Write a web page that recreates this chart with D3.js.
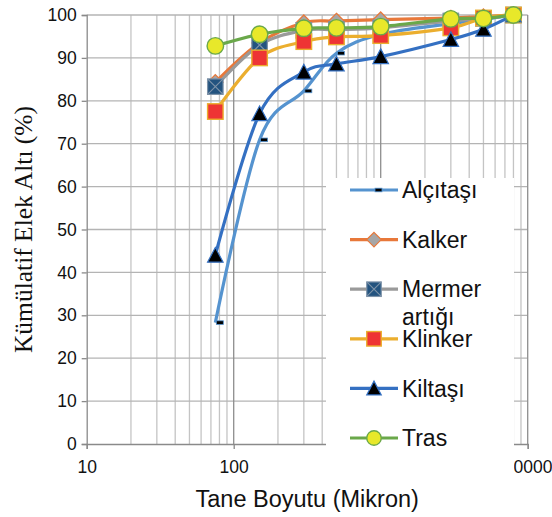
<!DOCTYPE html>
<html><head><meta charset="utf-8">
<script src="https://cdn.jsdelivr.net/npm/d3@7"></script>
<style>body{margin:0;background:#fff;} svg{display:block;}</style>
</head><body>
<svg id="chart" width="552" height="517"></svg>
<script>
// ---- data ----
const sizes = [75, 150, 300, 500, 1000, 3000, 5000, 8000];
const seriesNames = ["Alçıtaşı", "Kalker", "Mermer artığı", "Klinker", "Kiltaşı", "Tras"];
const alcitasi = [28.3, 70.9, 82.3, 91.1, 95.5, 98.0, 99.0, 100];
const kalker   = [84.3, 93.5, 98.2, 98.6, 98.9, 99.3, 99.6, 100];
const mermer   = [83.3, 93.0, 96.4, 96.6, 97.0, 98.6, 99.2, 100];
const klinker  = [77.5, 90.0, 93.8, 94.9, 95.2, 97.0, 99.3, 100];
const kiltasi  = [44.0, 77.0, 86.7, 88.6, 90.3, 94.3, 96.7, 100];
const tras     = [92.8, 95.5, 96.9, 97.0, 97.3, 99.1, 99.2, 100];
const yTicks = [0, 10, 20, 30, 40, 50, 60, 70, 80, 90, 100];
const xTicks = [10, 100, 1000, 10000];
const xTickLabels = ["10", "100", "1000", "10000"];
const xTitle = "Tane Boyutu (Mikron)";
const yTitle = "Kümülatif Elek Altı (%)";

// ---- styles ----
const styles = [
  {line: "#5593cf", marker: "dash",     fill: "#000",    stroke: "#5593cf"},
  {line: "#e8783a", marker: "diamond",  fill: "#a6a6a6", stroke: "#e8783a"},
  {line: "#9a9a9a", marker: "xsquare",  fill: "#23537f", stroke: "#7d92a8"},
  {line: "#ebae2e", marker: "square",   fill: "#ee3434", stroke: "#ebae2e"},
  {line: "#3470c2", marker: "triangle", fill: "#000",    stroke: "#3470c2"},
  {line: "#6aa84a", marker: "circle",   fill: "#e8e82a", stroke: "#6aa84a"}
];
const allValues = [alcitasi, kalker, mermer, klinker, kiltasi, tras];

const svg = d3.select("#chart");
const x = d3.scaleLog().domain([10, 10000]).range([86.7, 527.7]);
const y = d3.scaleLinear().domain([0, 100]).range([444, 15]);
const FONT = "'Liberation Sans', Arial, sans-serif";

// grid
const minor = [];
[10, 100, 1000].forEach(d => { for (let k = 2; k <= 9; k++) minor.push(d * k); });
svg.append("g").selectAll("line").data(minor).join("line")
  .attr("x1", d => x(d)).attr("x2", d => x(d)).attr("y1", y(100)).attr("y2", y(0))
  .attr("stroke", "#c4c4c4").attr("stroke-width", 1.3);
svg.append("g").selectAll("line").data(yTicks.slice(1)).join("line")
  .attr("x1", x(10)).attr("x2", x(10000)).attr("y1", d => y(d)).attr("y2", d => y(d))
  .attr("stroke", "#b4b4b4").attr("stroke-width", 1.3);
svg.append("g").selectAll("line").data(xTicks.slice(1)).join("line")
  .attr("x1", d => x(d)).attr("x2", d => x(d)).attr("y1", y(100)).attr("y2", y(0))
  .attr("stroke", "#8e8e8e").attr("stroke-width", 1.3);

// axes
const yAxis = svg.append("g").attr("transform", `translate(${x(10)},0)`)
  .call(d3.axisLeft(y).tickValues(yTicks).tickSize(5).tickPadding(5).tickFormat(d3.format("d")));
const xAxis = svg.append("g").attr("transform", `translate(0,${y(0)})`)
  .call(d3.axisBottom(x).tickValues(xTicks).tickSize(5).tickPadding(12).tickFormat((d, i) => xTickLabels[i]));
[yAxis, xAxis].forEach(a => {
  a.select(".domain").attr("stroke", "#8a8a8a").attr("stroke-width", 1.3);
  a.selectAll(".tick line").attr("stroke", "#8a8a8a").attr("stroke-width", 1.3);
  a.selectAll("text").attr("font-family", FONT).attr("font-size", 17.5).attr("fill", "#111");
});

// marker drawing
function drawMarker(g, type, fill, stroke, s) {
  const h = s / 2;
  if (type === "dash") {
    g.append("rect").attr("x", 1).attr("y", -1.8).attr("width", 7).attr("height", 3.6)
      .attr("fill", fill).attr("stroke", stroke).attr("stroke-width", 0.8);
  } else if (type === "diamond") {
    g.append("path").attr("d", `M0,${-h}L${h},0L0,${h}L${-h},0Z`)
      .attr("fill", fill).attr("stroke", stroke).attr("stroke-width", 1.2);
  } else if (type === "xsquare") {
    g.append("rect").attr("x", -h).attr("y", -h).attr("width", s).attr("height", s)
      .attr("fill", fill).attr("stroke", stroke).attr("stroke-width", 1.2);
    g.append("path").attr("d", `M${-h},${-h}L${h},${h}M${h},${-h}L${-h},${h}`)
      .attr("stroke", stroke).attr("stroke-width", 1.2);
  } else if (type === "square") {
    g.append("rect").attr("x", -h).attr("y", -h).attr("width", s).attr("height", s)
      .attr("fill", fill).attr("stroke", stroke).attr("stroke-width", 1.4);
  } else if (type === "triangle") {
    g.append("path").attr("d", `M0,${-h}L${h},${h * 0.9}L${-h},${h * 0.9}Z`)
      .attr("fill", fill).attr("stroke", stroke).attr("stroke-width", 1.2);
  } else if (type === "circle") {
    g.append("circle").attr("r", h).attr("fill", fill).attr("stroke", stroke).attr("stroke-width", 1.4);
  }
}

// series
const line = d3.line().x((d, i) => x(sizes[i])).y(d => y(d)).curve(d3.curveCardinal.tension(0));
allValues.forEach((vals, si) => {
  const st = styles[si];
  const g = svg.append("g");
  g.append("path").datum(vals).attr("d", line).attr("fill", "none")
    .attr("stroke", st.line).attr("stroke-width", 3.2).attr("stroke-linejoin", "round");
  vals.forEach((v, i) => {
    const mg = g.append("g").attr("transform", `translate(${x(sizes[i])},${y(v)})`);
    drawMarker(mg, st.marker, st.fill, st.stroke, st.marker === "circle" ? 16.5 : 15.5);
  });
});

// legend
const leg = svg.append("g");
leg.append("rect").attr("x", 326).attr("y", 178).attr("width", 188).attr("height", 302).attr("fill", "#fff");
const legTop = 190, legStep = 49.6;
seriesNames.forEach((name, i) => {
  const st = styles[i];
  const cy = legTop + i * legStep;
  leg.append("line").attr("x1", 350).attr("x2", 398).attr("y1", cy).attr("y2", cy)
    .attr("stroke", st.line).attr("stroke-width", 3.2);
  const mg = leg.append("g").attr("transform", `translate(374,${cy})`);
  drawMarker(mg, st.marker, st.fill, st.stroke, 14.5);
  const words = name.split(" ");
  words.forEach((w, k) => {
    leg.append("text").attr("x", 402).attr("y", cy + k * 28).attr("dy", "0.36em")
      .attr("font-family", FONT).attr("font-size", 23).attr("fill", "#111").text(w);
  });
});

// titles
svg.append("text").attr("x", (x(10) + x(10000)) / 2).attr("y", 507).attr("text-anchor", "middle")
  .attr("font-family", FONT).attr("font-size", 23.5).attr("fill", "#111").text(xTitle);
svg.append("text").attr("transform", `translate(32,${(y(0) + y(100)) / 2}) rotate(-90)`)
  .attr("text-anchor", "middle").attr("font-family", "'Liberation Serif', 'Times New Roman', serif")
  .attr("font-size", 25.5).attr("fill", "#111").text(yTitle);
</script>
</body></html>
